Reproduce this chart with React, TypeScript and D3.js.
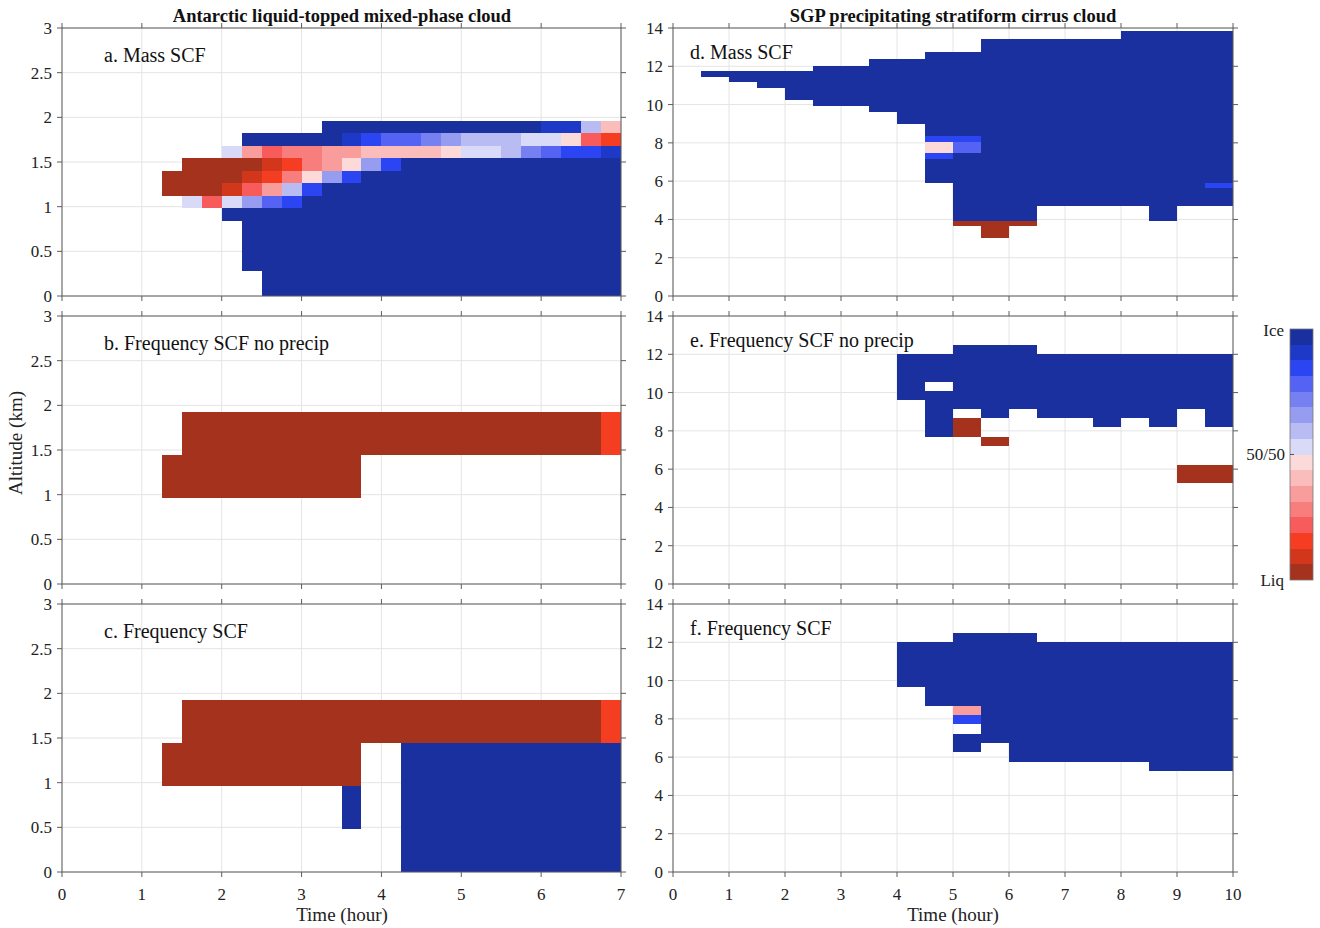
import React from 'react';
import * as d3 from 'd3';

// 16-step liquid -> ice palette (0 = Liq ... f = Ice)
const levelKeys = '0123456789abcdef';
const levelColors = [
  '#a5321c', '#d2371c', '#f53d22', '#f75b5b', '#f87d7d', '#f99c9c', '#fbbcbc', '#fcdada',
  '#d8daf7', '#b8bcf3', '#969df1', '#7680f0', '#5463f3', '#2b45f3', '#1e38c8', '#1a309e',
];

const antarcticXTicks = [0, 1, 2, 3, 4, 5, 6, 7];
const antarcticYTicks = [0, 0.5, 1, 1.5, 2, 2.5, 3];
const cirrusXTicks = [0, 1, 2, 3, 4, 5, 6, 7, 8, 9, 10];
const cirrusYTicks = [0, 2, 4, 6, 8, 10, 12, 14];

// panel a: 0.25 h columns from 1.25 h, 0.14 km rows, listed top (1.82-1.96 km) to bottom
const massATimeStart = 1.25;
const massATimeStep = 0.25;
const massAAltStep = 0.14;
const massARows = [
  '........fffffffffffee96',
  '....fffffedccba99988732',
  '...853445566667889bcdde',
  '.000012457adfffffffffff',
  '00001247adfffffffffffff',
  '0001359dfffffffffffffff',
  '.838acdffffffffffffffff',
  '...ffffffffffffffffffff',
  '....fffffffffffffffffff',
  '....fffffffffffffffffff',
  '....fffffffffffffffffff',
  '....fffffffffffffffffff',
  '.....ffffffffffffffffff',
  '.....ffffffffffffffffff',
];

// [time start, time end, altitude bottom, altitude top, level]
type Block = [number, number, number, number, string];

const freqNoPrecipA: Block[] = [
  [1.25, 3.75, 0.96, 1.44, '0'],
  [1.5, 6.75, 1.44, 1.92, '0'],
  [6.75, 7.0, 1.44, 1.92, '2'],
];

const freqA: Block[] = [
  [1.25, 3.75, 0.96, 1.44, '0'],
  [1.5, 6.75, 1.44, 1.92, '0'],
  [6.75, 7.0, 1.44, 1.92, '2'],
  [3.5, 3.75, 0.48, 0.96, 'f'],
  [4.25, 7.0, 0, 1.44, 'f'],
];

const massD: Block[] = [
  [0.5, 1.0, 11.46, 11.77, 'f'],
  [1.0, 1.5, 11.16, 11.77, 'f'],
  [1.5, 2.0, 10.85, 11.77, 'f'],
  [2.0, 2.5, 10.24, 11.77, 'f'],
  [2.5, 3.5, 9.93, 12.03, 'f'],
  [3.5, 4.0, 9.63, 12.38, 'f'],
  [4.0, 4.5, 8.99, 12.38, 'f'],
  [4.5, 5.0, 5.92, 12.73, 'f'],
  [5.0, 5.5, 3.92, 12.73, 'f'],
  [5.5, 6.5, 3.92, 13.43, 'f'],
  [6.5, 8.0, 4.72, 13.43, 'f'],
  [8.0, 8.5, 4.72, 13.83, 'f'],
  [8.5, 9.0, 3.92, 13.83, 'f'],
  [9.0, 10.0, 4.72, 13.83, 'f'],
  [5.0, 6.5, 3.67, 3.92, '0'],
  [5.5, 6.0, 3.05, 3.67, '0'],
  [4.5, 5.5, 8.05, 8.36, 'd'],
  [4.5, 5.0, 7.46, 8.05, '7'],
  [5.0, 5.5, 7.46, 8.05, 'c'],
  [4.5, 5.0, 7.14, 7.46, 'd'],
  [9.5, 10.0, 5.63, 5.92, 'd'],
];

const freqNoPrecipE: Block[] = [
  [4.0, 4.5, 9.61, 12.02, 'f'],
  [4.5, 5.0, 10.57, 12.02, 'f'],
  [4.5, 5.0, 7.70, 10.08, 'f'],
  [5.0, 5.5, 9.14, 12.49, 'f'],
  [5.5, 6.0, 8.66, 12.49, 'f'],
  [6.0, 6.5, 9.14, 12.49, 'f'],
  [6.5, 7.5, 8.66, 12.02, 'f'],
  [7.5, 8.0, 8.19, 12.02, 'f'],
  [8.0, 8.5, 8.66, 12.02, 'f'],
  [8.5, 9.0, 8.19, 12.02, 'f'],
  [9.0, 9.5, 9.14, 12.02, 'f'],
  [9.5, 10.0, 8.19, 12.02, 'f'],
  [5.0, 5.5, 7.70, 8.66, '0'],
  [5.5, 6.0, 7.23, 7.70, '0'],
  [9.0, 10.0, 5.29, 6.22, '0'],
];

const freqF: Block[] = [
  [4.0, 4.5, 9.66, 12.02, 'f'],
  [4.5, 5.0, 8.67, 12.02, 'f'],
  [5.0, 5.5, 8.67, 12.50, 'f'],
  [5.0, 5.5, 8.18, 8.67, '5'],
  [5.0, 5.5, 7.74, 8.18, 'd'],
  [5.0, 5.5, 6.26, 7.22, 'f'],
  [5.5, 6.0, 6.73, 12.50, 'f'],
  [6.0, 6.5, 5.77, 12.50, 'f'],
  [6.5, 8.5, 5.77, 12.02, 'f'],
  [8.5, 10.0, 5.30, 12.02, 'f'],
];

const massABlocks: Block[] = massARows.flatMap((row, i) => {
  const k = massARows.length - 1 - i;
  return row.split('').flatMap((ch, c) =>
    ch === '.'
      ? []
      : [[
          massATimeStart + c * massATimeStep,
          massATimeStart + (c + 1) * massATimeStep,
          k * massAAltStep,
          (k + 1) * massAAltStep,
          ch,
        ] as Block]
  );
});

const FONT = '"Liberation Serif", "Times New Roman", serif';
const AXIS = '#5c5c5c';
const GRID = '#e4e4e4';

const leftX = [62, 621];
const rightX = [673, 1233];
const rowTops = [28, 316, 604];
const rowH = 268;

const panels = [
  { id: 'a', col: 0, row: 0, label: 'a. Mass SCF', blocks: massABlocks },
  { id: 'b', col: 0, row: 1, label: 'b. Frequency SCF no precip', blocks: freqNoPrecipA },
  { id: 'c', col: 0, row: 2, label: 'c. Frequency SCF', blocks: freqA },
  { id: 'd', col: 1, row: 0, label: 'd. Mass SCF', blocks: massD },
  { id: 'e', col: 1, row: 1, label: 'e. Frequency SCF no precip', blocks: freqNoPrecipE },
  { id: 'f', col: 1, row: 2, label: 'f. Frequency SCF', blocks: freqF },
];

function Panel({ p }: { p: typeof panels[number] }) {
  const left = p.col === 0;
  const xr = left ? leftX : rightX;
  const xTicks = left ? antarcticXTicks : cirrusXTicks;
  const yTicks = left ? antarcticYTicks : cirrusYTicks;
  const top = rowTops[p.row];
  const bottom = top + rowH;
  const xs = d3.scaleLinear().domain([0, d3.max(xTicks)!]).range(xr);
  const ys = d3.scaleLinear().domain([0, d3.max(yTicks)!]).range([bottom, top]);
  const clipId = `clip-${p.id}`;
  const tick = 5;

  return (
    <g>
      <defs>
        <clipPath id={clipId}>
          <rect x={xr[0]} y={top} width={xr[1] - xr[0]} height={rowH} />
        </clipPath>
      </defs>
      {/* grid */}
      {xTicks.map(t => (
        <line key={`gx${t}`} x1={xs(t)} x2={xs(t)} y1={top} y2={bottom} stroke={GRID} strokeWidth={1} />
      ))}
      {yTicks.map(t => (
        <line key={`gy${t}`} x1={xr[0]} x2={xr[1]} y1={ys(t)} y2={ys(t)} stroke={GRID} strokeWidth={1} />
      ))}
      {/* cells */}
      <g clipPath={`url(#${clipId})`} shapeRendering="crispEdges">
        {p.blocks.map((b, i) => (
          <rect
            key={i}
            x={xs(b[0])}
            y={ys(b[3])}
            width={xs(b[1]) - xs(b[0])}
            height={ys(b[2]) - ys(b[3])}
            fill={levelColors[levelKeys.indexOf(b[4])]}
          />
        ))}
      </g>
      {/* frame + outward ticks */}
      <rect x={xr[0]} y={top} width={xr[1] - xr[0]} height={rowH} fill="none" stroke={AXIS} strokeWidth={1} />
      {xTicks.map(t => (
        <g key={`tx${t}`}>
          <line x1={xs(t)} x2={xs(t)} y1={bottom} y2={bottom + tick} stroke={AXIS} />
          <line x1={xs(t)} x2={xs(t)} y1={top} y2={top - tick} stroke={AXIS} />
        </g>
      ))}
      {yTicks.map(t => (
        <g key={`ty${t}`}>
          <line x1={xr[0] - tick} x2={xr[0]} y1={ys(t)} y2={ys(t)} stroke={AXIS} />
          <line x1={xr[1]} x2={xr[1] + tick} y1={ys(t)} y2={ys(t)} stroke={AXIS} />
          <text x={xr[0] - 10} y={ys(t) + 6} textAnchor="end" fontSize={17} fontFamily={FONT} fill="#222">
            {String(t)}
          </text>
        </g>
      ))}
      {p.row === 2 &&
        xTicks.map(t => (
          <text key={`lx${t}`} x={xs(t)} y={bottom + 28} textAnchor="middle" fontSize={17} fontFamily={FONT} fill="#222">
            {String(t)}
          </text>
        ))}
      <text
        x={xr[0] + (left ? 42 : 17)}
        y={top + (left ? 34 : 31)}
        fontSize={20}
        fontFamily={FONT}
        fill="#111"
      >
        {p.label}
      </text>
    </g>
  );
}

function Colorbar() {
  const x = 1290;
  const w = 23;
  const ys = d3.scaleLinear().domain([0, levelColors.length]).range([580, 329]);
  return (
    <g>
      <g shapeRendering="crispEdges">
        {levelColors.map((c, i) => (
          <rect key={i} x={x} y={ys(i + 1)} width={w} height={ys(i) - ys(i + 1)} fill={c} />
        ))}
      </g>
      <rect x={x} y={ys(16)} width={w} height={ys(0) - ys(16)} fill="none" stroke="#777" strokeWidth={0.8} />
      <line x1={x} x2={x + 4} y1={ys(8)} y2={ys(8)} stroke="#555" />
      <text x={1284} y={336} textAnchor="end" fontSize={17} fontFamily={FONT} fill="#222">Ice</text>
      <text x={1285} y={460} textAnchor="end" fontSize={17} fontFamily={FONT} fill="#222">50/50</text>
      <text x={1284} y={586} textAnchor="end" fontSize={17} fontFamily={FONT} fill="#222">Liq</text>
    </g>
  );
}

export default function App() {
  return (
    <svg
      width={1320}
      height={928}
      style={{ position: 'absolute', left: 0, top: 0, background: '#fff' }}
    >
      <rect width={1320} height={928} fill="#fff" />
      <text x={342} y={22} textAnchor="middle" fontSize={18.5} fontWeight="bold" fontFamily={FONT} fill="#111">
        Antarctic liquid-topped mixed-phase cloud
      </text>
      <text x={953} y={22} textAnchor="middle" fontSize={18.5} fontWeight="bold" fontFamily={FONT} fill="#111">
        SGP precipitating stratiform cirrus cloud
      </text>
      {panels.map(p => (
        <Panel key={p.id} p={p} />
      ))}
      <text x={342} y={921} textAnchor="middle" fontSize={19} fontFamily={FONT} fill="#222">Time (hour)</text>
      <text x={953} y={921} textAnchor="middle" fontSize={19} fontFamily={FONT} fill="#222">Time (hour)</text>
      <text
        transform="translate(22,443) rotate(-90)"
        textAnchor="middle"
        fontSize={19}
        fontFamily={FONT}
        fill="#222"
      >
        Altitude (km)
      </text>
      <Colorbar />
    </svg>
  );
}
